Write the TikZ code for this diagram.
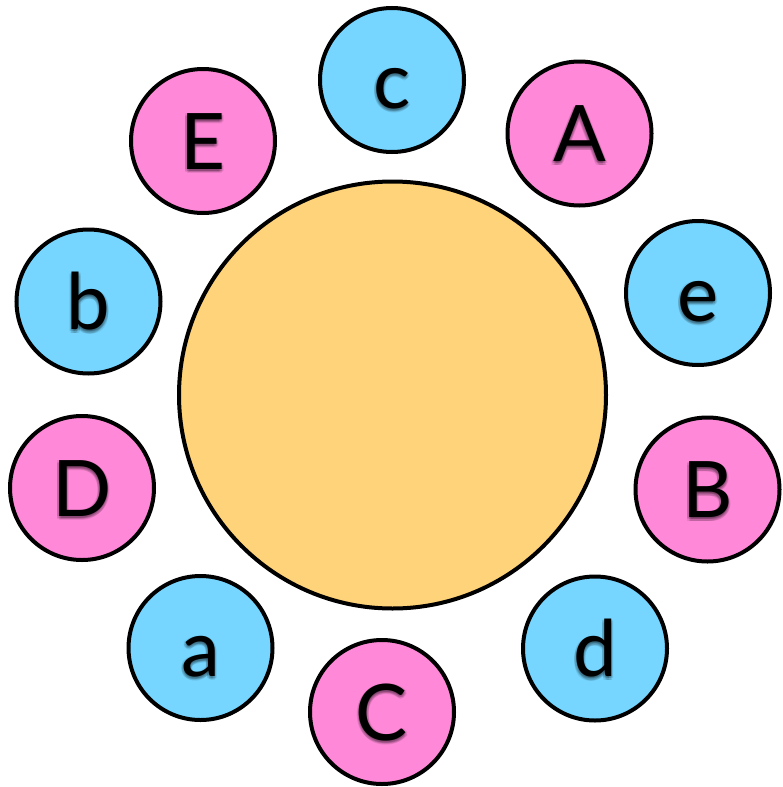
\documentclass[tikz,border=0pt]{standalone}
\usepackage{fontspec}
\newfontfamily\latofont{Lato}
\definecolor{bluec}{RGB}{118,214,255}
\definecolor{pinkc}{RGB}{255,136,216}
\definecolor{sunc}{RGB}{254,211,122}
\newcommand{\ballfont}{\latofont\fontsize{78}{78}\selectfont}
\tikzset{
  ball/.style={circle, draw=black, line width=4pt, minimum size=144pt, inner sep=0pt,
    font=\ballfont, text height=56pt, text depth=0pt,
    path picture={
      \foreach \dx/\dy in {0/-2, 2/-2, -2/-2, 0/-4, 0/0, 1.5/-3.5, -1.5/-3.5, 1.5/-0.5, -1.5/-0.5}
        \node[opacity=0.09, text=black, font=\ballfont, text height=56pt, text depth=0pt, inner sep=0pt]
          at ([xshift=\dx pt, yshift=\dy pt]path picture bounding box.center) {#1};
    }},
  pinkball/.style={ball=#1, fill=pinkc},
  blueball/.style={ball=#1, fill=bluec},
  sun/.style={circle, draw=black, line width=4pt, minimum size=427pt, inner sep=0pt, fill=sunc}
}
\begin{document}
\begin{tikzpicture}[x=1pt, y=-1pt]
  \useasboundingbox (0,0) rectangle (782,787);
  \node[sun] (center) at (392.5,395) {};
  \node[blueball=c] (c) at (392,80) {c};
  \node[pinkball=A] (A) at (579.5,133.5) {A};
  \node[pinkball=E] (E) at (203,141) {E};
  \node[blueball=b] (b) at (88.5,301.5) {b};
  \node[blueball=e] (e) at (698,293) {e};
  \node[pinkball=D] (D) at (82,488) {D};
  \node[pinkball=B] (B) at (707.5,489.5) {B};
  \node[blueball=a] (a) at (200.5,648) {a};
  \node[blueball=d] (d) at (595,648.5) {d};
  \node[pinkball=C] (C) at (382,712) {C};
\end{tikzpicture}
\end{document}
